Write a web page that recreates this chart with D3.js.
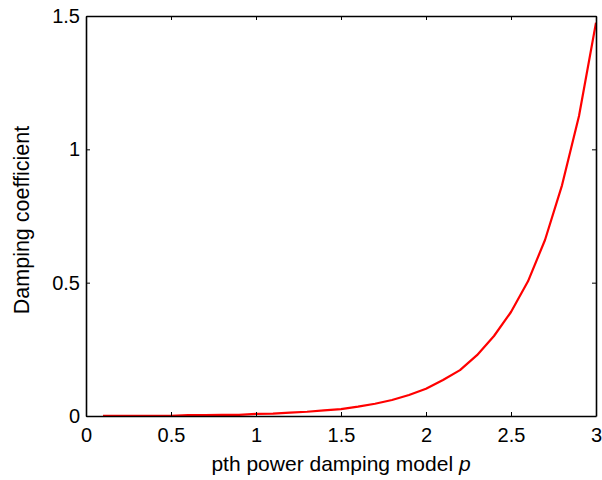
<!DOCTYPE html>
<html>
<head>
<meta charset="utf-8">
<script src="https://cdn.jsdelivr.net/npm/d3@7"></script>
<style>
  body { margin: 0; background: #fff; }
  text { font-family: Arial, "Liberation Sans", sans-serif; fill: #000; }
</style>
</head>
<body>
<div id="chart"></div>
<script>
// pth power damping model p
const pValues = [0.1, 0.2, 0.3, 0.4, 0.5, 0.6, 0.7, 0.8, 0.9, 1.0,
                 1.1, 1.2, 1.3, 1.4, 1.5, 1.6, 1.7, 1.8, 1.9, 2.0,
                 2.1, 2.2, 2.3, 2.4, 2.5, 2.6, 2.7, 2.8, 2.9, 3.0];
// damping coefficient
const dampValues = [0.0003, 0.0004, 0.0005, 0.0007, 0.001, 0.003, 0.003, 0.004, 0.004, 0.008,
                    0.009, 0.013, 0.016, 0.021, 0.026, 0.035, 0.046, 0.060, 0.079, 0.102,
                    0.135, 0.172, 0.228, 0.300, 0.390, 0.505, 0.660, 0.865, 1.125, 1.475];
const xTicks = [0, 0.5, 1, 1.5, 2, 2.5, 3];
const yTicks = [0, 0.5, 1, 1.5];

const w = 602, h = 480;
const margin = {top: 16, right: 6, bottom: 64, left: 86};

const svg = d3.select("#chart").append("svg")
    .attr("width", w)
    .attr("height", h);

const x = d3.scaleLinear().domain([0, 3]).range([margin.left, w - margin.right]);
const y = d3.scaleLinear().domain([0, 1.5]).range([h - margin.bottom, margin.top]);

const data = pValues.map((p, i) => ({p: p, v: dampValues[i]}));

// line first, axes drawn on top
svg.append("path")
    .datum(data)
    .attr("fill", "none")
    .attr("stroke", "#ff0000")
    .attr("stroke-width", 2.2)
    .attr("stroke-linejoin", "round")
    .attr("d", d3.line().x(d => x(d.p)).y(d => y(d.v)));

const fmt = d => d3.format("~g")(d);

// bottom / left with labels, ticks pointing inward
const axBottom = svg.append("g")
    .attr("transform", `translate(0,${y(0)})`)
    .call(d3.axisBottom(x).tickValues(xTicks).tickFormat(fmt).tickSizeInner(-4).tickSizeOuter(0).tickPadding(12));
const axLeft = svg.append("g")
    .attr("transform", `translate(${x(0)},0)`)
    .call(d3.axisLeft(y).tickValues(yTicks).tickFormat(fmt).tickSizeInner(-4).tickSizeOuter(0).tickPadding(6));
// mirrored top / right ticks
const axTop = svg.append("g")
    .attr("transform", `translate(0,${y(1.5)})`)
    .call(d3.axisTop(x).tickValues(xTicks).tickFormat("").tickSizeInner(-4).tickSizeOuter(0));
const axRight = svg.append("g")
    .attr("transform", `translate(${x(3)},0)`)
    .call(d3.axisRight(y).tickValues(yTicks).tickFormat("").tickSizeInner(-4).tickSizeOuter(0));

[axBottom, axLeft, axTop, axRight].forEach(g => {
    g.select(".domain").attr("stroke", "#000").attr("stroke-width", 1.6);
    g.selectAll(".tick line").attr("stroke", "#000");
    g.selectAll("text").attr("font-size", 20).attr("font-family", "Arial, 'Liberation Sans', sans-serif");
});

// axis titles
const xLabel = svg.append("text")
    .attr("x", (x(0) + x(3)) / 2)
    .attr("y", 471)
    .attr("text-anchor", "middle")
    .attr("font-size", 21);
xLabel.append("tspan").text("pth power damping model ");
xLabel.append("tspan").attr("font-style", "italic").text("p");

svg.append("text")
    .attr("transform", `translate(29,${(y(0) + y(1.5)) / 2 + 4}) rotate(-90)`)
    .attr("text-anchor", "middle")
    .attr("font-size", 21.5)
    .text("Damping coefficient");
</script>
</body>
</html>
